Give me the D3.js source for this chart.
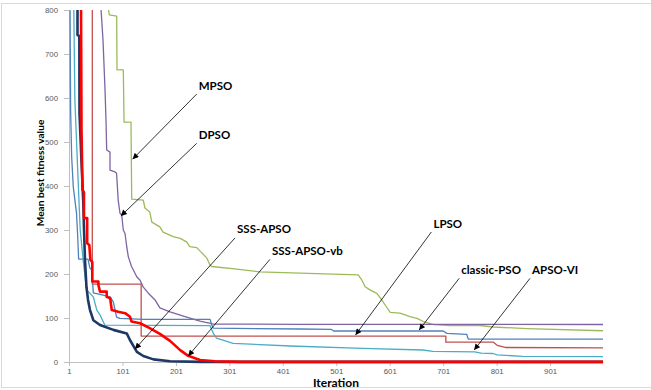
<!DOCTYPE html>
<html>
<head>
<meta charset="utf-8">
<script src="https://cdn.jsdelivr.net/npm/d3@7"></script>
<style>
  body { margin: 0; background: #fff; }
  svg { display: block; }
</style>
</head>
<body>
<svg id="chart" width="651" height="390"></svg>
<script>
// Axis ticks
const iterationTicks = [1, 101, 201, 301, 401, 501, 601, 701, 801, 901];
const valueTicks = [0, 100, 200, 300, 400, 500, 600, 700, 800];

// Mean best fitness per iteration, [iteration, value]
const mpso = [[1,3000],[74,850],[75,800],[76.4,789],[90.2,786],[90.8,664],[102.6,664],[104,545],[117,545],[118.3,370],[140,368],[143,350],[152,341],[156,318],[171,307],[177,295],[196,285],[209,281],[221,273],[227,262],[240,260],[259,236],[265,220],[268,217],[315,211],[358,205],[433,202],[542,198],[549,186],[555,171],[564,164],[577,156],[586,141],[595,125],[602,113],[620,111],[639,103],[652,99],[664,92],[683,85],[714,83],[770,83],[795,79.5],[857,76],[1000,71]];
const dpso = [[1,3000],[58,900],[61,800],[64.6,732],[68.4,618],[70.2,550],[71.5,482],[77.7,477],[77.7,436],[87,432],[90,429],[93,368],[96.4,338],[99.6,334],[102.6,300],[105.8,292],[109,262],[112,239],[118,217],[128,193],[134,186],[140,170],[149,157],[162,141],[171,123],[190,114],[221,102],[246,93],[270,86.4],[433,85.7],[1000,85.2]];
const lpso = [[1,5000],[44.6,5000],[44.6,177],[136,177],[136,59],[706,59],[706,45],[795,45],[802,38],[817,33],[1000,32]];
const classicPso = [[1,1200],[3,800],[4,573],[6,466],[9,398],[15,339],[17,293],[19,234],[36.5,234],[40,214],[43.5,209],[46.5,157],[65,152],[78,148],[84,136],[90,102],[96,99],[140,97],[265,97],[268,84],[271,77],[433,75],[492,74],[496,70.5],[701,70.5],[708,65],[745,63],[748,52],[1000,52]];
const apsoVi = [[1,2000],[10,800],[12,595],[15,505],[18,414],[22,300],[28,225],[34,164],[46.5,148],[53,118],[59,107],[68,84],[265,82.5],[271,65],[277,54],[308,42.5],[415,36.4],[551,31],[663,27.3],[682,24],[760,23],[772,20],[794,19.3],[802,16],[850,13],[1000,12]];
const sssApso = [[1,2000],[16.9,800],[16.9,743],[20.3,741],[20.6,566],[24.8,443],[27.8,361],[29.1,300],[30.9,232],[33.7,170],[36.6,141],[40.3,118],[46.5,95],[59,84],[84,73],[109,65],[115,50],[128,23],[140,13.6],[159,6],[190,1.6],[246,0.3],[1000,0.3]];
const sssApsoVb = [[1,2500],[20,1000],[23.5,800],[24.4,527],[26.3,391],[29,386],[29,327],[35,327],[35,270],[39,266],[41,232],[44.6,227],[44.6,183],[56,183],[56,175],[59,160],[71.5,160],[71.5,148],[78,145],[81,118],[93,114],[106,111],[115,103],[118,92],[134,88],[152,77],[171,64],[190,48],[209,27],[224,14],[246,4.5],[274,1.6],[321,0.3],[1000,0.3]];

// Callouts: label, point on the curve, start of the leader line (both in data units)
const calloutNames = ["MPSO", "DPSO", "SSS-APSO", "SSS-APSO-vb", "LPSO", "classic-PSO", "APSO-VI"];
const calloutTips  = [[120,461],[98,332],[124.5,29.5],[224,13.6],[537,61.4],[656,72.7],[759,27.3]];
const calloutTails = [[240,609],[240,497],[311.6,282],[377,233.4],[679,295.5],[731,190.2],[863.5,190.2]];

const svg = d3.select("#chart");
const margin = { left: 69, right: 48, top: 10, bottom: 28 };
const W = 651, H = 390;

const x = d3.scaleLinear().domain([1, 1000]).range([margin.left, W - margin.right]);
const y = d3.scaleLinear().domain([0, 800]).range([H - margin.bottom, margin.top]);

// outer frame
svg.append("rect")
  .attr("x", 1.5).attr("y", 3.5).attr("width", 652).attr("height", 384)
  .attr("fill", "#fff").attr("stroke", "#d9d9d9").attr("stroke-width", 1);

// axes
const tickFont = "'Liberation Sans', Arial, sans-serif";
const yAxis = svg.append("g")
  .attr("transform", `translate(${margin.left},0)`)
  .call(d3.axisLeft(y).tickValues(valueTicks).tickSize(5).tickPadding(6).tickSizeOuter(0));
const xAxis = svg.append("g")
  .attr("transform", `translate(0,${y(0)})`)
  .call(d3.axisBottom(x).tickValues(iterationTicks).tickSize(4).tickPadding(2).tickSizeOuter(0));
[xAxis, yAxis].forEach(g => {
  g.selectAll("path.domain").attr("stroke", "#bfbfbf");
  g.selectAll(".tick line").attr("stroke", "#bfbfbf");
  g.selectAll(".tick text").attr("fill", "#595959")
    .style("font-family", tickFont).style("font-size", "7.8px");
});

// axis titles
const titleFont = "Lato, 'Open Sans', sans-serif";
svg.append("text")
  .attr("transform", `translate(44,173) rotate(-90)`)
  .attr("text-anchor", "middle")
  .style("font-family", titleFont)
  .style("font-weight", "bold").style("font-size", "10.2px")
  .attr("fill", "#000")
  .text("Mean best fitness value");
svg.append("text")
  .attr("x", (x(1) + x(1000)) / 2).attr("y", 387.2)
  .attr("text-anchor", "middle")
  .style("font-family", titleFont)
  .style("font-weight", "bold").style("font-size", "12px")
  .attr("fill", "#000")
  .text("Iteration");

// curves
svg.append("clipPath").attr("id", "plot-clip")
  .append("rect")
  .attr("x", x(1)).attr("y", y(800))
  .attr("width", x(1000) - x(1) + 2).attr("height", y(0) - y(800) + 4);

const line = d3.line().x(d => x(d[0])).y(d => y(d[1]));
const series = [
  { data: mpso,       color: "#9bbb59", width: 1.3 },
  { data: dpso,       color: "#8064a2", width: 1.3 },
  { data: lpso,       color: "#c0504d", width: 1.3 },
  { data: classicPso, color: "#4f81bd", width: 1.3 },
  { data: apsoVi,     color: "#4bacc6", width: 1.3 },
  { data: sssApso,    color: "#1f3864", width: 2.6 },
  { data: sssApsoVb,  color: "#ff0000", width: 2.6 }
];
const plot = svg.append("g").attr("clip-path", "url(#plot-clip)");
plot.selectAll("path.curve").data(series).join("path")
  .attr("class", "curve")
  .attr("d", s => line(s.data))
  .attr("fill", "none")
  .attr("stroke", s => s.color)
  .attr("stroke-width", s => s.width)
  .attr("stroke-linejoin", "round");

// leader arrows with labels
svg.append("defs").append("marker")
  .attr("id", "arrowhead")
  .attr("viewBox", "0 0 10 10")
  .attr("refX", 10).attr("refY", 5)
  .attr("markerUnits", "userSpaceOnUse")
  .attr("markerWidth", 7).attr("markerHeight", 6)
  .attr("orient", "auto")
  .append("path").attr("d", "M0,0 L10,5 L0,10 z").attr("fill", "#000");

const callouts = calloutNames.map((name, i) => ({ name, tip: calloutTips[i], tail: calloutTails[i] }));
const cg = svg.append("g");
cg.selectAll("line").data(callouts).join("line")
  .attr("x1", d => x(d.tail[0])).attr("y1", d => y(d.tail[1]))
  .attr("x2", d => x(d.tip[0])).attr("y2", d => y(d.tip[1]))
  .attr("stroke", "#000").attr("stroke-width", 0.8)
  .attr("marker-end", "url(#arrowhead)");
cg.selectAll("text").data(callouts).join("text")
  .attr("x", d => x(d.tail[0]) + 2)
  .attr("y", d => y(d.tail[1]) - 8.5)
  .attr("dy", "0.35em")
  .style("font-family", titleFont)
  .style("font-weight", "bold").style("font-size", "11.5px")
  .attr("fill", "#000")
  .text(d => d.name);
</script>
</body>
</html>
